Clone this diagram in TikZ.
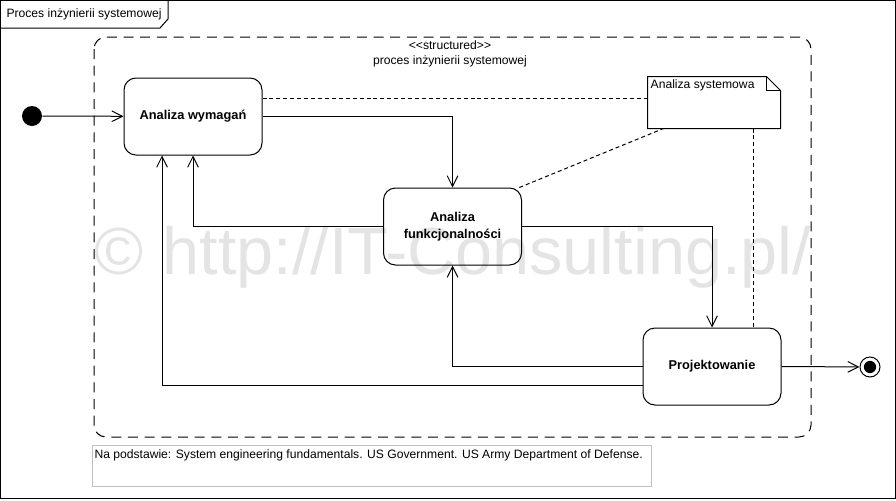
\documentclass[tikz,border=0pt]{standalone}
\usepackage{fontspec}
\setmainfont{Liberation Sans}
\usetikzlibrary{arrows.meta}
\definecolor{umlInk}{HTML}{000000}
\definecolor{umlGrey}{HTML}{C0C0C0}
\definecolor{umlMark}{HTML}{E4E4E4}

\begin{document}
\begin{tikzpicture}[x=0.75pt, y=-0.75pt, line width=0.75pt,
    font=\fontsize{9.1}{11}\selectfont,
    state/.style={draw=umlInk, rounded corners=9pt, minimum width=103.5pt,
      minimum height=57.75pt, align=center, font=\fontsize{9.6}{12.6}\selectfont\bfseries},
    flow/.style={-{Straight Barb[length=8pt,width=8pt]}},
    anchorline/.style={dash pattern=on 3pt off 2.2pt},
    notebox/.style={minimum width=99pt, minimum height=38.25pt, inner sep=0pt}]
    \useasboundingbox (0,0) rectangle (896,500);

    % watermark
    \node[text=umlMark, font=\fontsize{50}{55}\selectfont] (mark) at (453,257) {© http://IT-Consulting.pl/};

    % frame
    \draw (0.5,0.5) rectangle (895.5,498.5);
    \node[anchor=west, inner sep=0pt] (ftitle) at (6,14) {Proces inżynierii systemowej};
    \draw (0.5,28) -- (160,28) -- (168,19) -- (168,0.5);

    % structured activity
    \draw[dash pattern=on 7.5pt off 5pt, rounded corners=9pt] (94,37) rectangle (811,437);
    \node (stereo) at (450,45) {<{}<structured>{}>};
    \node (sname) at (450,61) {proces inżynierii systemowej};

    % states
    \node[circle, fill=umlInk, minimum size=15pt, inner sep=0pt] (init) at (32,116) {};
    \node[state] (aw) at (193,116.5) {Analiza wymagań};
    \node[state] (af) at (452.5,226.5) {Analiza\\funkcjonalności};
    \node[state] (proj) at (712,366.5) {Projektowanie};
    \node[circle, draw=umlInk, minimum size=15pt, inner sep=0pt,
      path picture={\fill[umlInk] (path picture bounding box.center) circle (4.6pt);}] (fin) at (870,367) {};

    % note
    \node[notebox] (note) at (714,102.5) {};
    \draw (note.north west) -- ([xshift=-10.5pt]note.north east)
      -- ([yshift=-10.5pt]note.north east) -- (note.south east)
      -- (note.south west) -- cycle;
    \draw ([xshift=-10.5pt]note.north east) -- ([xshift=-10.5pt,yshift=-10.5pt]note.north east)
      -- ([yshift=-10.5pt]note.north east);
    \node[anchor=north west, inner sep=2pt] (ntext) at (note.north west) {Analiza systemowa};

    % transitions
    \draw[flow] (init) -- (aw);
    \draw[flow] (aw.east) -| (af.north);
    \draw[flow] (af.west) -| (aw.south);
    \draw[flow] (af.east) -| (proj.north);
    \draw[flow] (proj.west) -| (af.south);
    \draw[flow] ([yshift=-14.5pt]proj.west) -| ([xshift=-23.25pt]aw.south);
    \draw[flow] (proj.east) -- (fin);

    % note links
    \draw[anchorline] ([yshift=13.5pt]aw.east) -- ([yshift=13.5pt]aw.east -| note.west);
    \draw[anchorline] ([xshift=-2pt]af.north east) -- ([xshift=12pt]note.south west);
    \draw[anchorline] ([xshift=-20.25pt]note.south east) -- ([xshift=-20.25pt]note.south east |- proj.north);

    % source
    \draw[umlGrey] (92,445) rectangle (651,486);
    \node[anchor=west, inner sep=0pt] (src) at (94,455) {Na podstawie: System engineering fundamentals. US Government. US Army Department of Defense.};
  \end{tikzpicture}
\end{document}
